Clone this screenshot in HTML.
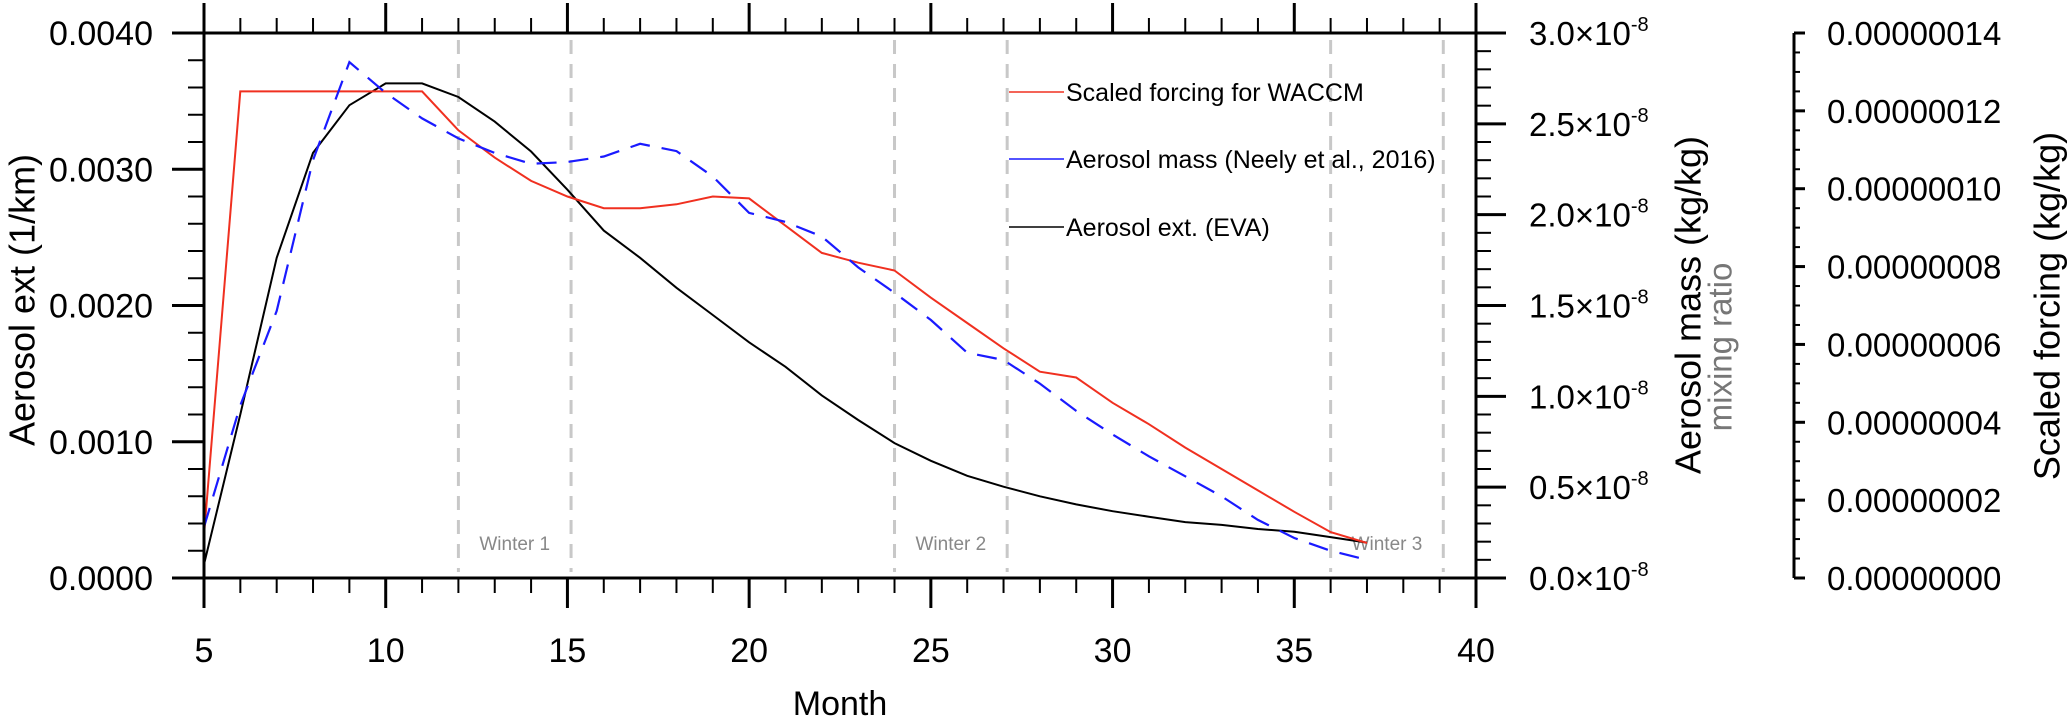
<!DOCTYPE html>
<html><head><meta charset="utf-8">
<style>
html,body{margin:0;padding:0;background:#fff;}
svg{display:block;font-family:"Liberation Sans",Arial,sans-serif;}
</style></head>
<body>
<svg id="chart" width="2067" height="722" viewBox="0 0 2067 722" xmlns="http://www.w3.org/2000/svg">
<g id="winters"></g>
<g id="series"></g>
<g id="axes"></g>
<g id="legend"></g>
<g id="labels"></g>
</svg>
<script>
// ---- data ----
const months = [5,6,7,8,9,10,11,12,13,14,15,16,17,18,19,20,21,22,23,24,25,26,27,28,29,30,31,32,33,34,35,36,37];
// Scaled forcing (units 1e-8 kg/kg, third axis)
const forcingVals = [1.1,12.5,12.5,12.5,12.5,12.5,12.5,11.5,10.8,10.2,9.8,9.5,9.5,9.6,9.8,9.75,9.05,8.35,8.1,7.9,7.2,6.55,5.9,5.3,5.15,4.5,3.95,3.35,2.8,2.25,1.7,1.18,0.9];
// Aerosol mass (units 1e-8 kg/kg, right axis)
const massVals = [0.28,0.95,1.47,2.3,2.84,2.67,2.53,2.42,2.34,2.28,2.29,2.32,2.39,2.35,2.21,2.01,1.96,1.88,1.71,1.57,1.42,1.24,1.2,1.07,0.92,0.79,0.67,0.56,0.45,0.32,0.22,0.15,0.10];
// Aerosol extinction (1/km, left axis)
const extVals = [0.0001,0.0012,0.00235,0.00312,0.00347,0.00363,0.00363,0.00353,0.00335,0.00313,0.00285,0.00255,0.00235,0.00213,0.00193,0.00173,0.00155,0.00134,0.00116,0.00099,0.00086,0.00075,0.00067,0.0006,0.00054,0.00049,0.00045,0.00041,0.00039,0.00036,0.00034,0.0003,0.00026];
const winterStarts = [12,24,36];
const winterEnds = [15.1,27.1,39.1];
const winterNames = ["Winter 1","Winter 2","Winter 3"];
const xTicks = [5,10,15,20,25,30,35,40];
const leftTicks = ["0.0000","0.0010","0.0020","0.0030","0.0040"];
const rightTicks = ["0.0","0.5","1.0","1.5","2.0","2.5","3.0"];
const thirdTicks = ["0.00000000","0.00000002","0.00000004","0.00000006","0.00000008","0.00000010","0.00000012","0.00000014"];

// ---- scales ----
const L=204, R=1476, T=33, B=578;
const X = m => L + (m-5)/35*(R-L);
const YL = v => B - v/0.004*(B-T);
const YR = v => B - v/3.0*(B-T);
const Y3 = v => B - v/14*(B-T);
const NS="http://www.w3.org/2000/svg";
function mk(tag, parent, attrs){const e=document.createElementNS(NS,tag);for(const k in attrs)e.setAttribute(k,attrs[k]);parent.appendChild(e);return e;}

// winter lines
const gw=document.getElementById('winters');
winterStarts.forEach((s,i)=>{
  [s,winterEnds[i]].forEach(m=>{
    const ln=mk('line',gw,{x1:X(m),x2:X(m),y1:40,y2:572,stroke:'#c8c8c8','stroke-width':3,'stroke-dasharray':'14 10'});
    
    
  });
  const t=mk('text',gw,{x:(X(s)+X(winterEnds[i]))/2,y:550,'text-anchor':'middle','font-size':19,fill:'#888'});
  t.textContent=winterNames[i];
  
  
});

// series
const gs=document.getElementById('series');
function pts(vals,fy){return months.map((m,i)=>X(m).toFixed(1)+','+fy(vals[i]).toFixed(1)).join(' ');}
const pExt=mk('polyline',gs,{points:pts(extVals,YL),fill:'none',stroke:'#000','stroke-width':2});


const pF=mk('polyline',gs,{points:pts(forcingVals,Y3),fill:'none',stroke:'#f03020','stroke-width':2});


const pM=mk('polyline',gs,{points:pts(massVals,YR),fill:'none',stroke:'#1a1aff','stroke-width':2.2,'stroke-dasharray':'20 12'});



// axes
const ga=document.getElementById('axes');
const box=mk('rect',ga,{x:L,y:T,width:R-L,height:B-T,fill:'none',stroke:'#000','stroke-width':3});


// x ticks (top & bottom, outward)
for(let m=5;m<=40;m++){
  const maj=(m%5===0), len=maj?30:15, w=maj?3:2;
  mk('line',ga,{x1:X(m),x2:X(m),y1:B,y2:B+len,stroke:'#000','stroke-width':w});
  mk('line',ga,{x1:X(m),x2:X(m),y1:T,y2:T-len,stroke:'#000','stroke-width':w});
}
// left ticks
for(let k=0;k<=20;k++){
  const v=k*0.0002, maj=(k%5===0), len=maj?32:16;
  mk('line',ga,{x1:L,x2:L-len,y1:YL(v),y2:YL(v),stroke:'#000','stroke-width':maj?3:2});
}
// right ticks
for(let k=0;k<=30;k++){
  const v=k*0.1, maj=(k%5===0), len=maj?30:15;
  mk('line',ga,{x1:R,x2:R+len,y1:YR(v),y2:YR(v),stroke:'#000','stroke-width':maj?3:2});
}
// third axis
const a3=mk('line',ga,{x1:1794,x2:1794,y1:T,y2:B,stroke:'#000','stroke-width':3});


for(let k=0;k<=28;k++){
  const v=k*0.5, maj=(k%4===0), len=maj?11:6;
  mk('line',ga,{x1:1794,x2:1794+len,y1:Y3(v),y2:Y3(v),stroke:'#000','stroke-width':maj?3:2});
}

// labels
const gl=document.getElementById('labels');
xTicks.forEach(m=>{
  const t=mk('text',gl,{x:X(m),y:662,'text-anchor':'middle','font-size':34});
  t.textContent=m;
  
  
});
leftTicks.forEach((s,i)=>{
  const t=mk('text',gl,{x:153,y:YL(i*0.001)+12,'text-anchor':'end','font-size':34});
  t.textContent=s;
  
  
});
rightTicks.forEach((s,i)=>{
  const t=mk('text',gl,{x:1529,y:YR(i*0.5)+12,'font-size':33});
  t.textContent=s+'\u00d710';
  const sp=mk('tspan',t,{dy:-14,'font-size':20});
  sp.textContent='-8';
  
  
});
thirdTicks.forEach((s,i)=>{
  const t=mk('text',gl,{x:1827,y:Y3(i*2)+12,'font-size':33});
  t.textContent=s;
  
  
});
function rot(txt,x,y,size,fill,name){
  const t=mk('text',gl,{x:x,y:y,'text-anchor':'middle','font-size':size,fill:fill,transform:`rotate(-90 ${x} ${y})`,'dominant-baseline':'central'});
  t.textContent=txt;
  
  
}
rot('Aerosol ext (1/km)',22,300,36,'#000','left-axis-title');
rot('Aerosol mass (kg/kg)',1688,305,36,'#000','right-axis-title');
rot('mixing ratio',1720,347,33,'#777','right-axis-subtitle');
rot('Scaled forcing (kg/kg)',2047,306,36,'#000','third-axis-title');
const mt=mk('text',gl,{x:840,y:715,'text-anchor':'middle','font-size':34});
mt.textContent='Month';



// legend
const lg=document.getElementById('legend');
const legNames=["Scaled forcing for WACCM","Aerosol mass (Neely et al., 2016)","Aerosol ext. (EVA)"];
const legColors=["#f03020","#1a1aff","#000"];
const legY=[92,159,227];
legNames.forEach((n,i)=>{
  const ln=mk('line',lg,{x1:1009,x2:1064,y1:legY[i],y2:legY[i],stroke:legColors[i],'stroke-width':1.5});
  
  
  const t=mk('text',lg,{x:1066,y:legY[i]+9,'font-size':25});
  t.textContent=n;
  
  
});
</script>
</body></html>
